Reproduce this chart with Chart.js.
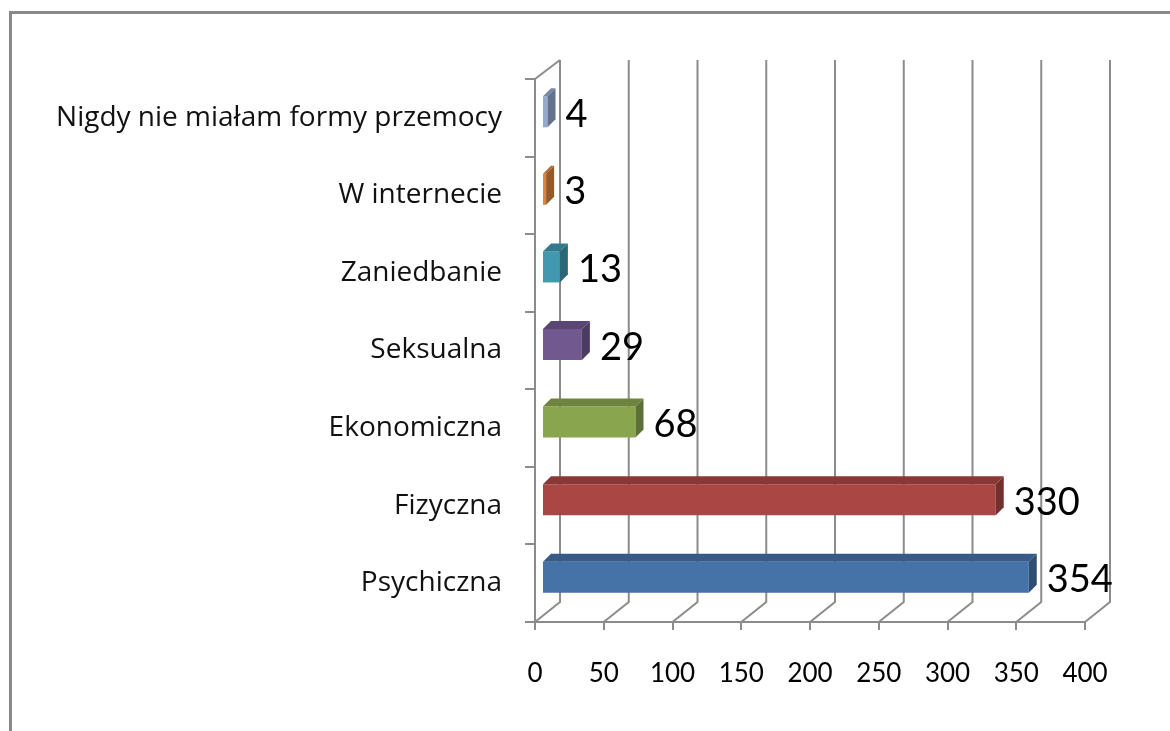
<!DOCTYPE html>
<html>
<head>
<meta charset="utf-8">
<script src="https://cdn.jsdelivr.net/npm/chart.js@4.4.1/dist/chart.umd.min.js"></script>
<style>
    html, body { margin: 0; padding: 0; background: #fff; overflow: hidden; }
    canvas { display: block; }
</style>
</head>
<body>
<canvas id="myChart" width="1170" height="731"></canvas>
<script>
// Dane (od góry do dołu, jak na wykresie)
const categories = [
    'Nigdy nie miałam formy przemocy',
    'W internecie',
    'Zaniedbanie',
    'Seksualna',
    'Ekonomiczna',
    'Fizyczna',
    'Psychiczna'
];
const values = [4, 3, 13, 29, 68, 330, 354];
const barColors = ['#93A9CF', '#DB843D', '#4198AF', '#71588F', '#89A54E', '#AA4643', '#4572A7'];
const xTicks = [0, 50, 100, 150, 200, 250, 300, 350, 400];

const GRID = '#8c8c8c';
const WALL = { dx: 25, dy: -20 };   // głębia tylnej ściany
const BAR_SHIFT = { dx: 7, dy: -6 }; // słupki stoją w połowie głębi
const BAR_DEPTH = { dx: 8, dy: -8 };

function shade(hex, f) {
    const n = parseInt(hex.slice(1), 16);
    const r = Math.round(((n >> 16) & 255) * f);
    const g = Math.round(((n >> 8) & 255) * f);
    const b = Math.round((n & 255) * f);
    return `rgb(${r},${g},${b})`;
}

// ramka, tylna ściana, podłoga
const frame3d = {
    id: 'frame3d',
    beforeDraw(chart) {
        const ctx = chart.ctx;
        ctx.save();
        ctx.fillStyle = '#fff';
        ctx.fillRect(0, 0, chart.width, chart.height);
        ctx.strokeStyle = '#898989';
        ctx.lineWidth = 3;
        ctx.strokeRect(10.5, 12.5, 1300, 900);
        ctx.restore();
    },
    beforeDatasetsDraw(chart) {
        const ctx = chart.ctx;
        const xs = chart.scales.x;
        const { top, bottom, left } = chart.chartArea;
        ctx.save();
        ctx.strokeStyle = GRID;
        ctx.lineWidth = 2;
        ctx.beginPath();
        xs.ticks.forEach(t => {
            const x = xs.getPixelForValue(t.value);
            ctx.moveTo(x, bottom);
            ctx.lineTo(x + WALL.dx, bottom + WALL.dy);
            ctx.lineTo(x + WALL.dx, top + WALL.dy + 1);
        });
        ctx.moveTo(left, top);
        ctx.lineTo(left + WALL.dx, top + WALL.dy + 1);
        ctx.stroke();
        ctx.restore();

        ctx.save();
        ctx.translate(BAR_SHIFT.dx, BAR_SHIFT.dy);
    },
    afterDatasetsDraw(chart) {
        const ctx = chart.ctx;
        const meta = chart.getDatasetMeta(0);
        meta.data.forEach((bar, i) => {
            const p = bar.getProps(['x', 'y', 'base', 'height'], true);
            const t = p.y - p.height / 2;
            const b = p.y + p.height / 2;
            const c = barColors[i];
            // górna ściana
            ctx.fillStyle = shade(c, 0.8);
            ctx.beginPath();
            ctx.moveTo(p.base, t);
            ctx.lineTo(p.x, t);
            ctx.lineTo(p.x + BAR_DEPTH.dx, t + BAR_DEPTH.dy);
            ctx.lineTo(p.base + BAR_DEPTH.dx, t + BAR_DEPTH.dy);
            ctx.closePath();
            ctx.fill();
            // boczna ściana
            ctx.fillStyle = shade(c, 0.68);
            ctx.beginPath();
            ctx.moveTo(p.x, t);
            ctx.lineTo(p.x + BAR_DEPTH.dx, t + BAR_DEPTH.dy);
            ctx.lineTo(p.x + BAR_DEPTH.dx, b + BAR_DEPTH.dy);
            ctx.lineTo(p.x, b);
            ctx.closePath();
            ctx.fill();
        });
        // etykiety danych
        ctx.fillStyle = '#000';
        ctx.font = '38px Lato';
        ctx.textAlign = 'left';
        ctx.textBaseline = 'alphabetic';
        meta.data.forEach((bar, i) => {
            const p = bar.getProps(['x', 'y'], true);
            ctx.fillText(String(values[i]), p.x + BAR_DEPTH.dx + 10, p.y + 15);
        });
        ctx.restore();
    }
};

const ctx = document.getElementById('myChart').getContext('2d');
new Chart(ctx, {
    type: 'bar',
    data: {
        labels: categories,
        datasets: [{
            data: values,
            backgroundColor: barColors,
            borderWidth: 0,
            barPercentage: 0.4,
            categoryPercentage: 1,
            clip: false
        }]
    },
    options: {
        indexAxis: 'y',
        responsive: false,
        animation: false,
        events: [],
        layout: { padding: { top: 79, right: 85, left: 0, bottom: 0 } },
        plugins: {
            legend: { display: false },
            tooltip: { enabled: false }
        },
        scales: {
            x: {
                min: 0,
                max: 400,
                afterBuildTicks: s => { s.ticks = xTicks.map(v => ({ value: v })); },
                afterFit: s => { s.height = 109; },
                grid: { drawOnChartArea: false, tickLength: 8, color: GRID, lineWidth: 2 },
                border: { color: GRID, width: 2 },
                ticks: { color: '#000', padding: 28, font: { family: 'Lato', size: 26 } }
            },
            y: {
                afterFit: s => { s.width = 535; },
                grid: { drawOnChartArea: false, offset: true, tickLength: 10, color: GRID, lineWidth: 2 },
                border: { color: GRID, width: 2 },
                ticks: { color: '#111', padding: 23, font: { family: 'Open Sans', size: 28 } }
            }
        }
    },
    plugins: [frame3d]
});
</script>
</body>
</html>
